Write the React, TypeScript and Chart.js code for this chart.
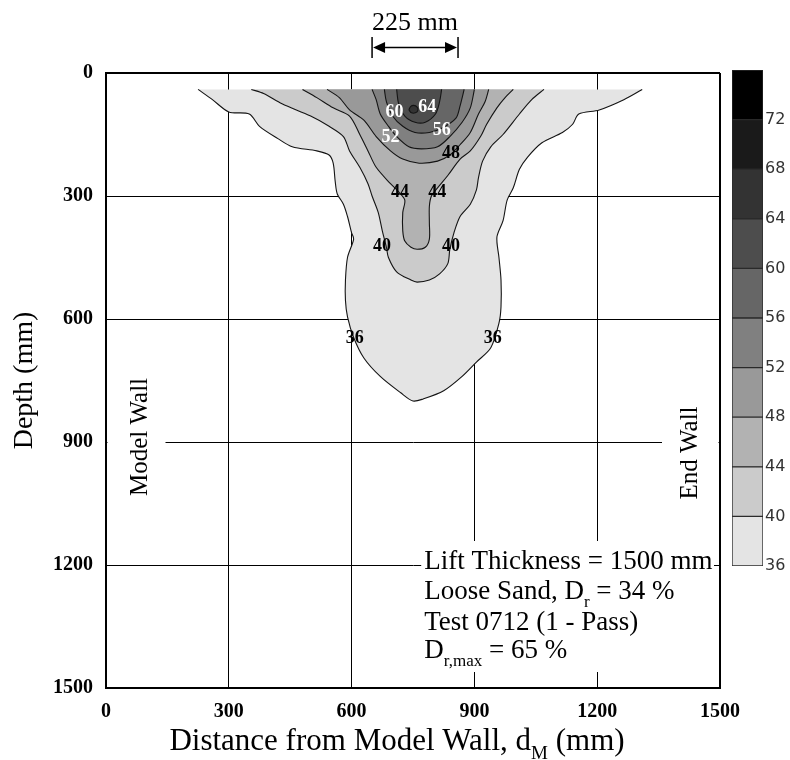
import React, { useEffect, useRef } from 'react';
import { Chart, registerables } from 'chart.js';

Chart.register(...registerables);

// ---- axes ----
const xTicks = [0, 300, 600, 900, 1200, 1500];
const depthTicks = [0, 300, 600, 900, 1200, 1500];

// ---- colour scale (Dr %) ----
const levels = [36, 40, 44, 48, 52, 56, 60, 64, 68, 72];
const bandColors = ['#e4e4e4', '#cbcbcb', '#b2b2b2', '#999999', '#808080', '#666666', '#4d4d4d', '#333333', '#1a1a1a', '#000000'];
const scaleTop = 76;

// ---- contour lines (x = distance from model wall, d = depth, mm) ----
const c36X = [225, 260, 300, 350, 375, 420, 455, 515, 545, 555, 560, 565, 580, 590, 600, 605, 590, 585, 585, 590, 605, 630, 670, 720, 750, 775, 825, 870, 905, 940, 960, 965, 965, 960, 955, 970, 980, 995, 1010, 1030, 1065, 1115, 1140, 1155, 1205, 1265, 1310];
const c36D = [40, 65, 95, 100, 130, 160, 180, 190, 200, 220, 265, 295, 320, 350, 390, 405, 450, 505, 555, 595, 645, 695, 740, 780, 800, 795, 775, 740, 705, 670, 610, 570, 505, 450, 400, 360, 310, 280, 235, 205, 170, 145, 125, 100, 90, 65, 40];

const c40X = [355, 385, 430, 500, 545, 580, 595, 620, 640, 650, 665, 675, 685, 690, 710, 745, 760, 790, 815, 835, 840, 850, 865, 890, 905, 910, 920, 940, 970, 1010, 1040, 1070];
const c40D = [40, 50, 75, 105, 130, 155, 190, 230, 270, 300, 340, 385, 425, 450, 485, 505, 510, 505, 490, 465, 430, 390, 350, 320, 285, 255, 215, 180, 150, 100, 65, 40];

const c44X = [480, 515, 555, 595, 620, 640, 660, 695, 715, 730, 725, 725, 730, 745, 760, 780, 790, 790, 790, 795, 810, 835, 865, 890, 915, 930, 955, 975, 995];
const c44D = [40, 60, 85, 105, 150, 190, 230, 270, 290, 310, 340, 385, 410, 425, 430, 425, 405, 365, 325, 300, 280, 250, 210, 190, 155, 125, 85, 60, 40];

const c48X = [540, 570, 595, 630, 660, 695, 725, 765, 810, 840, 865, 890, 910, 926, 935];
const c48D = [40, 60, 90, 115, 155, 190, 210, 220, 215, 200, 175, 145, 100, 70, 40];

const c52X = [650, 660, 670, 690, 710, 740, 770, 810, 840, 870, 890, 900];
const c52D = [40, 65, 100, 130, 155, 180, 185, 180, 155, 120, 85, 40];

const c56X = [680, 685, 700, 725, 755, 790, 820, 855, 865, 875];
const c56D = [40, 70, 105, 130, 145, 145, 135, 110, 80, 40];

const c60X = [710, 715, 730, 755, 780, 805, 815, 820];
const c60D = [40, 75, 105, 120, 120, 100, 70, 40];

const c64X = [740, 744, 752, 760, 762, 756, 746, 740];
const c64D = [90, 82, 79, 83, 91, 97, 97, 90];

const contourLevels = [36, 40, 44, 48, 52, 56, 60, 64];
const contourXs = [c36X, c40X, c44X, c48X, c52X, c56X, c60X, c64X];
const contourDs = [c36D, c40D, c44D, c48D, c52D, c56D, c60D, c64D];

// ---- contour labels ----
const labelText = ['64', '60', '56', '52', '48', '44', '44', '40', '40', '36', '36'];
const labelX = [785, 705, 820, 695, 843, 718, 809, 674, 843, 608, 945];
const labelD = [83, 95, 139, 156, 195, 290, 290, 424, 424, 646, 646];

// ---- annotations ----
const spanLabel = '225 mm';
const spanFrom = 650;
const spanTo = 860;

type Part = { t: string; sub?: boolean };
const infoLines: Part[][] = [
  [{ t: 'Lift Thickness = 1500 mm' }],
  [{ t: 'Loose Sand, D' }, { t: 'r', sub: true }, { t: ' = 34 %' }],
  [{ t: 'Test 0712 (1 - Pass)' }],
  [{ t: 'D' }, { t: 'r,max', sub: true }, { t: ' = 65 %' }],
];
const xTitle: Part[] = [{ t: 'Distance from Model Wall, d' }, { t: 'M', sub: true }, { t: ' (mm)' }];

const SERIF = '"Liberation Serif", "Times New Roman", serif';

function drawRich(ctx: CanvasRenderingContext2D, parts: Part[], x: number, y: number, size: number, align: 'left' | 'center') {
  const main = `${size}px ${SERIF}`;
  const sub = `${Math.round(size * 0.62)}px ${SERIF}`;
  let w = 0;
  for (const p of parts) {
    ctx.font = p.sub ? sub : main;
    w += ctx.measureText(p.t).width;
  }
  let cx = align === 'center' ? x - w / 2 : x;
  ctx.textAlign = 'left';
  ctx.textBaseline = 'alphabetic';
  for (const p of parts) {
    ctx.font = p.sub ? sub : main;
    ctx.fillText(p.t, cx, p.sub ? y + size * 0.28 : y);
    cx += ctx.measureText(p.t).width;
  }
}

const annotations = {
  id: 'annotations',
  afterDraw(chart: any) {
    const { ctx, chartArea: a, scales } = chart;
    const xs = scales.x;
    const ys = scales.y;
    ctx.save();
    ctx.fillStyle = '#000';

    // contour labels
    ctx.font = `bold 18px ${SERIF}`;
    ctx.textAlign = 'center';
    ctx.textBaseline = 'middle';
    labelText.forEach((t, i) => {
      ctx.fillStyle = Number(t) >= 52 ? '#ffffff' : '#000000';
      ctx.fillText(t, xs.getPixelForValue(labelX[i]), ys.getPixelForValue(labelD[i]));
    });

    // wall labels with white backing
    ctx.fillStyle = '#fff';
    ctx.fillRect(a.left + 1.5, ys.getPixelForValue(900) - 70, 58, 140);
    ctx.fillRect(a.right - 58, ys.getPixelForValue(900) - 70, 56.5, 140);
    ctx.fillStyle = '#000';
    ctx.font = `25px ${SERIF}`;
    ctx.textAlign = 'center';
    ctx.textBaseline = 'middle';
    ctx.save();
    ctx.translate(a.left + 34, ys.getPixelForValue(900) - 5);
    ctx.rotate(-Math.PI / 2);
    ctx.fillText('Model Wall', 0, 0);
    ctx.restore();
    ctx.save();
    ctx.translate(a.right - 30, ys.getPixelForValue(900) + 11);
    ctx.rotate(-Math.PI / 2);
    ctx.fillText('End Wall', 0, 0);
    ctx.restore();

    // info box
    ctx.fillStyle = '#fff';
    const bx = xs.getPixelForValue(770);
    ctx.fillRect(bx, 541, a.right - 6 - bx, 131);
    ctx.fillStyle = '#000';
    const baselines = [569, 599, 630, 658];
    infoLines.forEach((parts, i) => drawRich(ctx, parts, bx + 3, baselines[i], 27, 'left'));

    // x-axis title
    drawRich(ctx, xTitle, 397, 750, 31, 'center');

    // 225 mm span arrow
    const x1 = xs.getPixelForValue(spanFrom);
    const x2 = xs.getPixelForValue(spanTo);
    ctx.font = `26px ${SERIF}`;
    ctx.textAlign = 'center';
    ctx.textBaseline = 'alphabetic';
    ctx.fillText(spanLabel, (x1 + x2) / 2, 30);
    ctx.strokeStyle = '#000';
    ctx.lineWidth = 1.5;
    ctx.beginPath();
    ctx.moveTo(x1, 37); ctx.lineTo(x1, 58);
    ctx.moveTo(x2, 37); ctx.lineTo(x2, 58);
    ctx.moveTo(x1 + 8, 47.5); ctx.lineTo(x2 - 8, 47.5);
    ctx.stroke();
    ctx.beginPath();
    ctx.moveTo(x1 + 1, 47.5); ctx.lineTo(x1 + 13, 42); ctx.lineTo(x1 + 13, 53); ctx.closePath();
    ctx.moveTo(x2 - 1, 47.5); ctx.lineTo(x2 - 13, 42); ctx.lineTo(x2 - 13, 53); ctx.closePath();
    ctx.fill();
    ctx.restore();
  },
};

export default function App() {
  const mainRef = useRef<HTMLCanvasElement>(null);
  const barRef = useRef<HTMLCanvasElement>(null);

  useEffect(() => {
    Chart.defaults.color = '#000';
    const tickFont = { family: SERIF, size: 20, weight: 'bold' as const };
    const gridWidth = (c: any) => (c.tick && (c.tick.value === 0 || c.tick.value === 1500) ? 2 : 1);
    const plain = (v: any) => String(v);

    const datasets = contourLevels.map((lv, i) => ({
      label: String(lv),
      data: contourXs[i].map((v, j) => ({ x: v, y: contourDs[i][j] })),
      fill: 'shape' as const,
      backgroundColor: bandColors[levels.indexOf(lv)],
      borderColor: '#141414',
      borderWidth: 1.1,
      pointRadius: 0,
      tension: 0.3,
      order: 100 - lv,
    }));

    const main = new Chart(mainRef.current!, {
      type: 'line',
      data: { datasets },
      plugins: [annotations],
      options: {
        animation: false,
        responsive: false,
        events: [],
        layout: { padding: { left: 0, top: 73, right: 70, bottom: 0 } },
        plugins: { legend: { display: false }, tooltip: { enabled: false } },
        scales: {
          x: {
            type: 'linear',
            min: 0,
            max: 1500,
            z: 1,
            afterBuildTicks: (s: any) => { s.ticks = xTicks.map((v) => ({ value: v })); },
            ticks: { font: tickFont, color: '#000', padding: 12, callback: plain },
            grid: { color: '#000', lineWidth: gridWidth, drawTicks: false },
            border: { display: true, color: '#000', width: 2 },
            afterFit: (s: any) => { s.height = 72; },
          },
          y: {
            type: 'linear',
            reverse: true,
            min: 0,
            max: 1500,
            z: 1,
            afterBuildTicks: (s: any) => { s.ticks = depthTicks.map((v) => ({ value: v })); },
            ticks: { font: tickFont, color: '#000', padding: 13, callback: plain },
            grid: { color: '#000', lineWidth: gridWidth, drawTicks: false },
            border: { display: true, color: '#000', width: 2 },
            title: { display: true, text: 'Depth (mm)', color: '#000', font: { family: SERIF, size: 28 }, padding: { top: 8, bottom: 0 } },
            afterFit: (s: any) => { s.width = 106; },
          },
        },
      },
    });

    const bar = new Chart(barRef.current!, {
      type: 'bar',
      data: {
        labels: [''],
        datasets: levels.map((lv, i) => ({
          label: String(lv),
          data: [[lv, i + 1 < levels.length ? levels[i + 1] : scaleTop]] as any,
          backgroundColor: bandColors[i],
          borderColor: '#2a2a2a',
          borderWidth: 1,
          borderSkipped: false,
          grouped: false,
          barPercentage: 1,
          categoryPercentage: 1,
        })),
      },
      options: {
        animation: false,
        responsive: false,
        events: [],
        layout: { padding: { left: 0, right: 0, top: 8, bottom: 8 } },
        plugins: { legend: { display: false }, tooltip: { enabled: false } },
        scales: {
          x: { display: false },
          y: {
            position: 'right',
            min: levels[0],
            max: scaleTop,
            afterBuildTicks: (s: any) => { s.ticks = levels.map((v) => ({ value: v })); },
            ticks: { font: { family: '"DejaVu Sans", sans-serif', size: 16 }, color: '#333', padding: 2 },
            grid: { drawOnChartArea: false, drawTicks: false },
            border: { display: false },
            afterFit: (s: any) => { s.width = 27; s.paddingTop = 0; s.paddingBottom = 0; },
          },
        },
      },
    });

    return () => {
      main.destroy();
      bar.destroy();
    };
  }, []);

  return (
    <div style={{ position: 'absolute', left: 0, top: 0, width: 790, height: 760, background: '#fff' }}>
      <canvas ref={mainRef} width={790} height={760} style={{ position: 'absolute', left: 0, top: 0, width: 790, height: 760 }} />
      <canvas ref={barRef} width={58} height={512} style={{ position: 'absolute', left: 732, top: 62, width: 58, height: 512 }} />
    </div>
  );
}
